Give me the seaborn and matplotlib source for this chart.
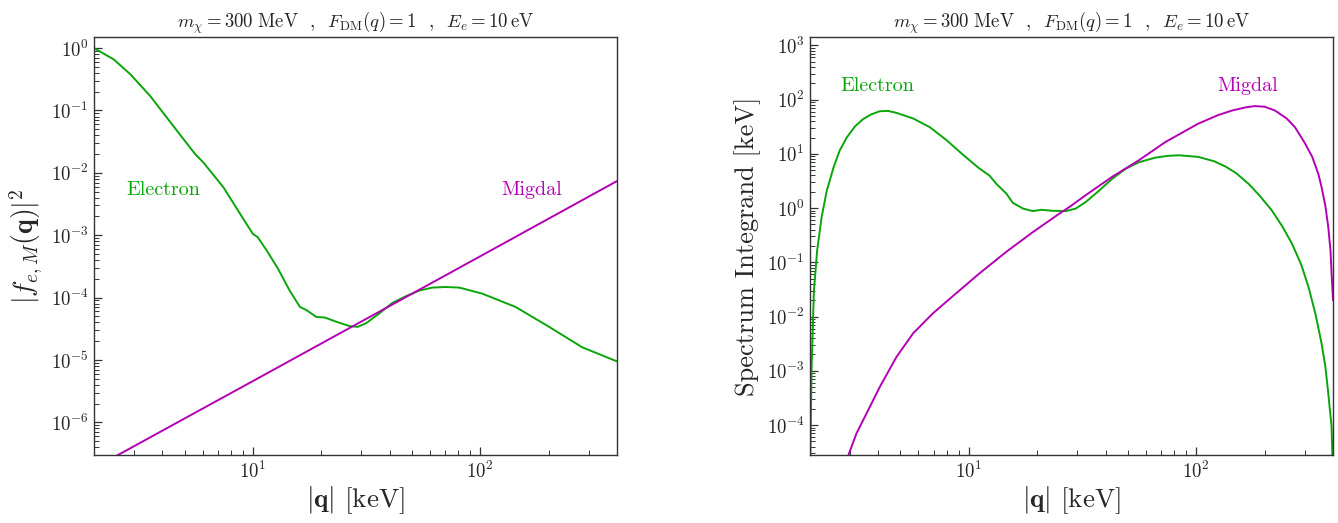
import numpy as np
import matplotlib
matplotlib.use('Agg')
import matplotlib.pyplot as plt
from matplotlib.ticker import NullFormatter
import pandas as pd
import seaborn as sns

# left panel: |f_{e,M}(q)|^2
q_elec_left = [2.0, 2.44, 2.89, 3.53, 4.18, 4.94, 5.57, 6.05, 7.41, 9.07, 10.0, 10.5, 11.5,
               12.9, 14.5, 16.1, 17.2, 19.0, 20.7, 23.3, 26.6, 28.9, 31.5, 36.0, 41.0, 47.0,
               54.0, 61.7, 70.5, 80.8, 102, 143, 201, 281, 400]
f_elec_left = [1.0, 0.66, 0.38, 0.171, 0.077, 0.035, 0.020, 0.0147, 0.0059, 0.00183, 0.00105,
               0.00093, 0.00057, 0.00029, 0.00013, 7.1e-5, 6.3e-5, 4.9e-5, 4.8e-5, 4.1e-5,
               3.5e-5, 3.4e-5, 3.9e-5, 5.6e-5, 8.2e-5, 1.05e-4, 1.3e-4, 1.45e-4, 1.48e-4,
               1.45e-4, 1.16e-4, 7.1e-5, 3.4e-5, 1.6e-5, 9.5e-6]
q_migdal_left = [2.0, 10.0, 100.0, 400.0]
f_migdal_left = [1.85e-7, 4.6e-6, 4.6e-4, 7.4e-3]

# right panel: spectrum integrand [keV]
q_elec_right = [2.0, 2.03, 2.08, 2.15, 2.25, 2.37, 2.54, 2.7, 2.9, 3.15, 3.43, 3.7, 4.05, 4.4,
                4.8, 5.68, 6.73, 7.96, 9.4, 11.1, 12.3, 13.2, 14.6, 15.6, 17.3, 19.1, 20.8,
                23.4, 26.7, 29.5, 32.7, 37.4, 42.8, 48.9, 55.9, 66, 75, 84, 102, 120, 135,
                150, 170, 190, 215, 240, 264, 290, 312, 335, 356, 370, 381, 394, 400]
s_elec_right = [1e-5, 1e-3, 0.03, 0.168, 0.69, 2.1, 5.7, 11.5, 20, 32, 44, 53, 61, 62,
                57, 45, 31, 18, 9.7, 5.4, 4.0, 2.8, 1.86, 1.25, 0.98, 0.88, 0.93,
                0.89, 0.88, 0.98, 1.3, 2.1, 3.5, 5.3, 7.0, 8.5, 9.2, 9.4, 8.8, 7.3, 5.8,
                4.4, 2.8, 1.7, 0.91, 0.45, 0.22, 0.09, 0.035, 0.011, 3.2e-3, 1.2e-3, 3.9e-4, 9.4e-5, 1e-5]
q_migdal_right = [2.9, 3.2, 3.55, 4.06, 4.8, 5.68, 6.95, 8.8, 11.1, 14.6, 19.1, 25, 27.7, 32.7,
                  42.8, 55.9, 73.3, 102, 125, 144, 165, 181, 200, 222, 250, 272, 300, 324,
                  345, 356, 370, 381, 390, 394, 400]
s_migdal_right = [2.3e-5, 7.0e-5, 1.66e-4, 5.1e-4, 1.8e-3, 4.9e-3, 0.0115, 0.027, 0.062, 0.156,
                  0.36, 0.79, 1.05, 1.74, 3.8, 7.6, 16.6, 36, 52, 63, 72, 76, 74, 63, 45, 31,
                  16, 8.8, 4.2, 2.45, 1.1, 0.45, 0.16, 0.063, 0.02]

green = '#0aa50a'
magenta = '#b400b4'
title = r'$m_\chi = 300\ \mathrm{MeV}$  ,  $F_{\rm DM}(q) = 1$  ,  $E_e = 10\,\mathrm{eV}$'

sns.set_theme(style='ticks')
plt.rcParams['font.family'] = 'serif'
plt.rcParams['font.serif'] = ['cmr10']
plt.rcParams['mathtext.fontset'] = 'cm'
plt.rcParams['axes.formatter.use_mathtext'] = True
plt.rcParams['axes.unicode_minus'] = False

fig, axes = plt.subplots(1, 2, figsize=(13.38, 5.23), dpi=100)
fig.subplots_adjust(left=0.0703, right=0.9963, bottom=0.13, top=0.929, wspace=0.369)

df_l_e = pd.DataFrame({'q': q_elec_left, 'v': f_elec_left})
df_l_m = pd.DataFrame({'q': q_migdal_left, 'v': f_migdal_left})
df_r_e = pd.DataFrame({'q': q_elec_right, 'v': s_elec_right})
df_r_m = pd.DataFrame({'q': q_migdal_right, 'v': s_migdal_right})

ax = axes[0]
sns.lineplot(data=df_l_e, x='q', y='v', ax=ax, color=green, lw=1.4)
sns.lineplot(data=df_l_m, x='q', y='v', ax=ax, color=magenta, lw=1.4)
ax.set(xscale='log', yscale='log', xlim=(2, 400), ylim=(3e-7, 1.5))
ax.set_ylabel(r'$|f_{e,M}(\mathbf{q})|^2$', fontsize=20, labelpad=4)
ax.text(0.132, 0.634, 'Electron', color=green, fontsize=14.5, transform=ax.transAxes,
        ha='center', va='center')
ax.text(0.837, 0.634, 'Migdal', color=magenta, fontsize=14.5, transform=ax.transAxes,
        ha='center', va='center')

ax = axes[1]
sns.lineplot(data=df_r_e, x='q', y='v', ax=ax, color=green, lw=1.4)
sns.lineplot(data=df_r_m, x='q', y='v', ax=ax, color=magenta, lw=1.4)
ax.set(xscale='log', yscale='log', xlim=(2, 400), ylim=(2.8e-5, 1.42e3))
ax.set_ylabel('Spectrum Integrand [keV]', fontsize=19, labelpad=4)
ax.text(0.129, 0.883, 'Electron', color=green, fontsize=14.5, transform=ax.transAxes,
        ha='center', va='center')
ax.text(0.837, 0.883, 'Migdal', color=magenta, fontsize=14.5, transform=ax.transAxes,
        ha='center', va='center')

for ax in axes:
    ax.set_xlabel(r'$|\mathbf{q}|$ [keV]', fontsize=19.5, labelpad=2)
    ax.set_title(title, fontsize=13.5, pad=7)
    ax.xaxis.set_minor_formatter(NullFormatter())
    ax.yaxis.set_minor_formatter(NullFormatter())
    ax.tick_params(which='both', direction='in', labelsize=13.5, color='#333333', pad=4)
    ax.tick_params(which='major', length=6, width=0.9)
    ax.tick_params(which='minor', length=3.5, width=0.7)
    for s in ax.spines.values():
        s.set_color('#333333')
        s.set_linewidth(1.0)

plt.savefig('out.png', dpi=100)
